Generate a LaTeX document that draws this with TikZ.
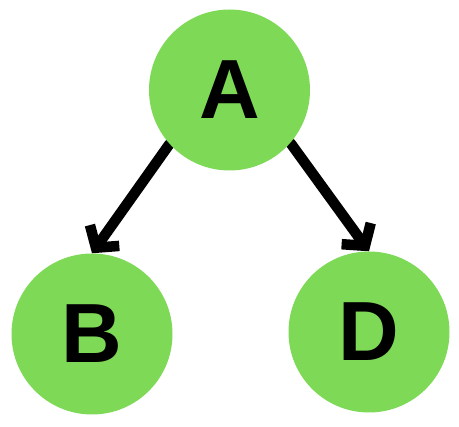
\documentclass[tikz,border=0pt]{standalone}
\usepackage{fontspec}
\setmainfont{Liberation Sans}
\usetikzlibrary{arrows.meta,positioning,backgrounds}
\definecolor{leafgreen}{RGB}{126,217,87}
\tikzset{n/.style={circle, fill=leafgreen, inner sep=0, minimum size=161pt, font=\fontsize{84}{84}\selectfont\bfseries},
  e/.style={line width=10.5pt, line cap=round, -{Straight Barb[length=15pt,width=36pt,line width=10.5pt]}}}

\begin{document}
\begin{tikzpicture}[x=1pt,y=-1pt]
    \useasboundingbox (0,0) rectangle (459,427);
    \node[n](A) at (229.5, 90) {A};
    \node[n](B) at (92, 334) {B};
    \node[n](D) at (369, 332) {D};

    \begin{scope}[on background layer]
      \draw[e] (A.222) -- (B.north);
      \draw[e] (A.319) -- (D.north);
    \end{scope}
  \end{tikzpicture}
\end{document}
